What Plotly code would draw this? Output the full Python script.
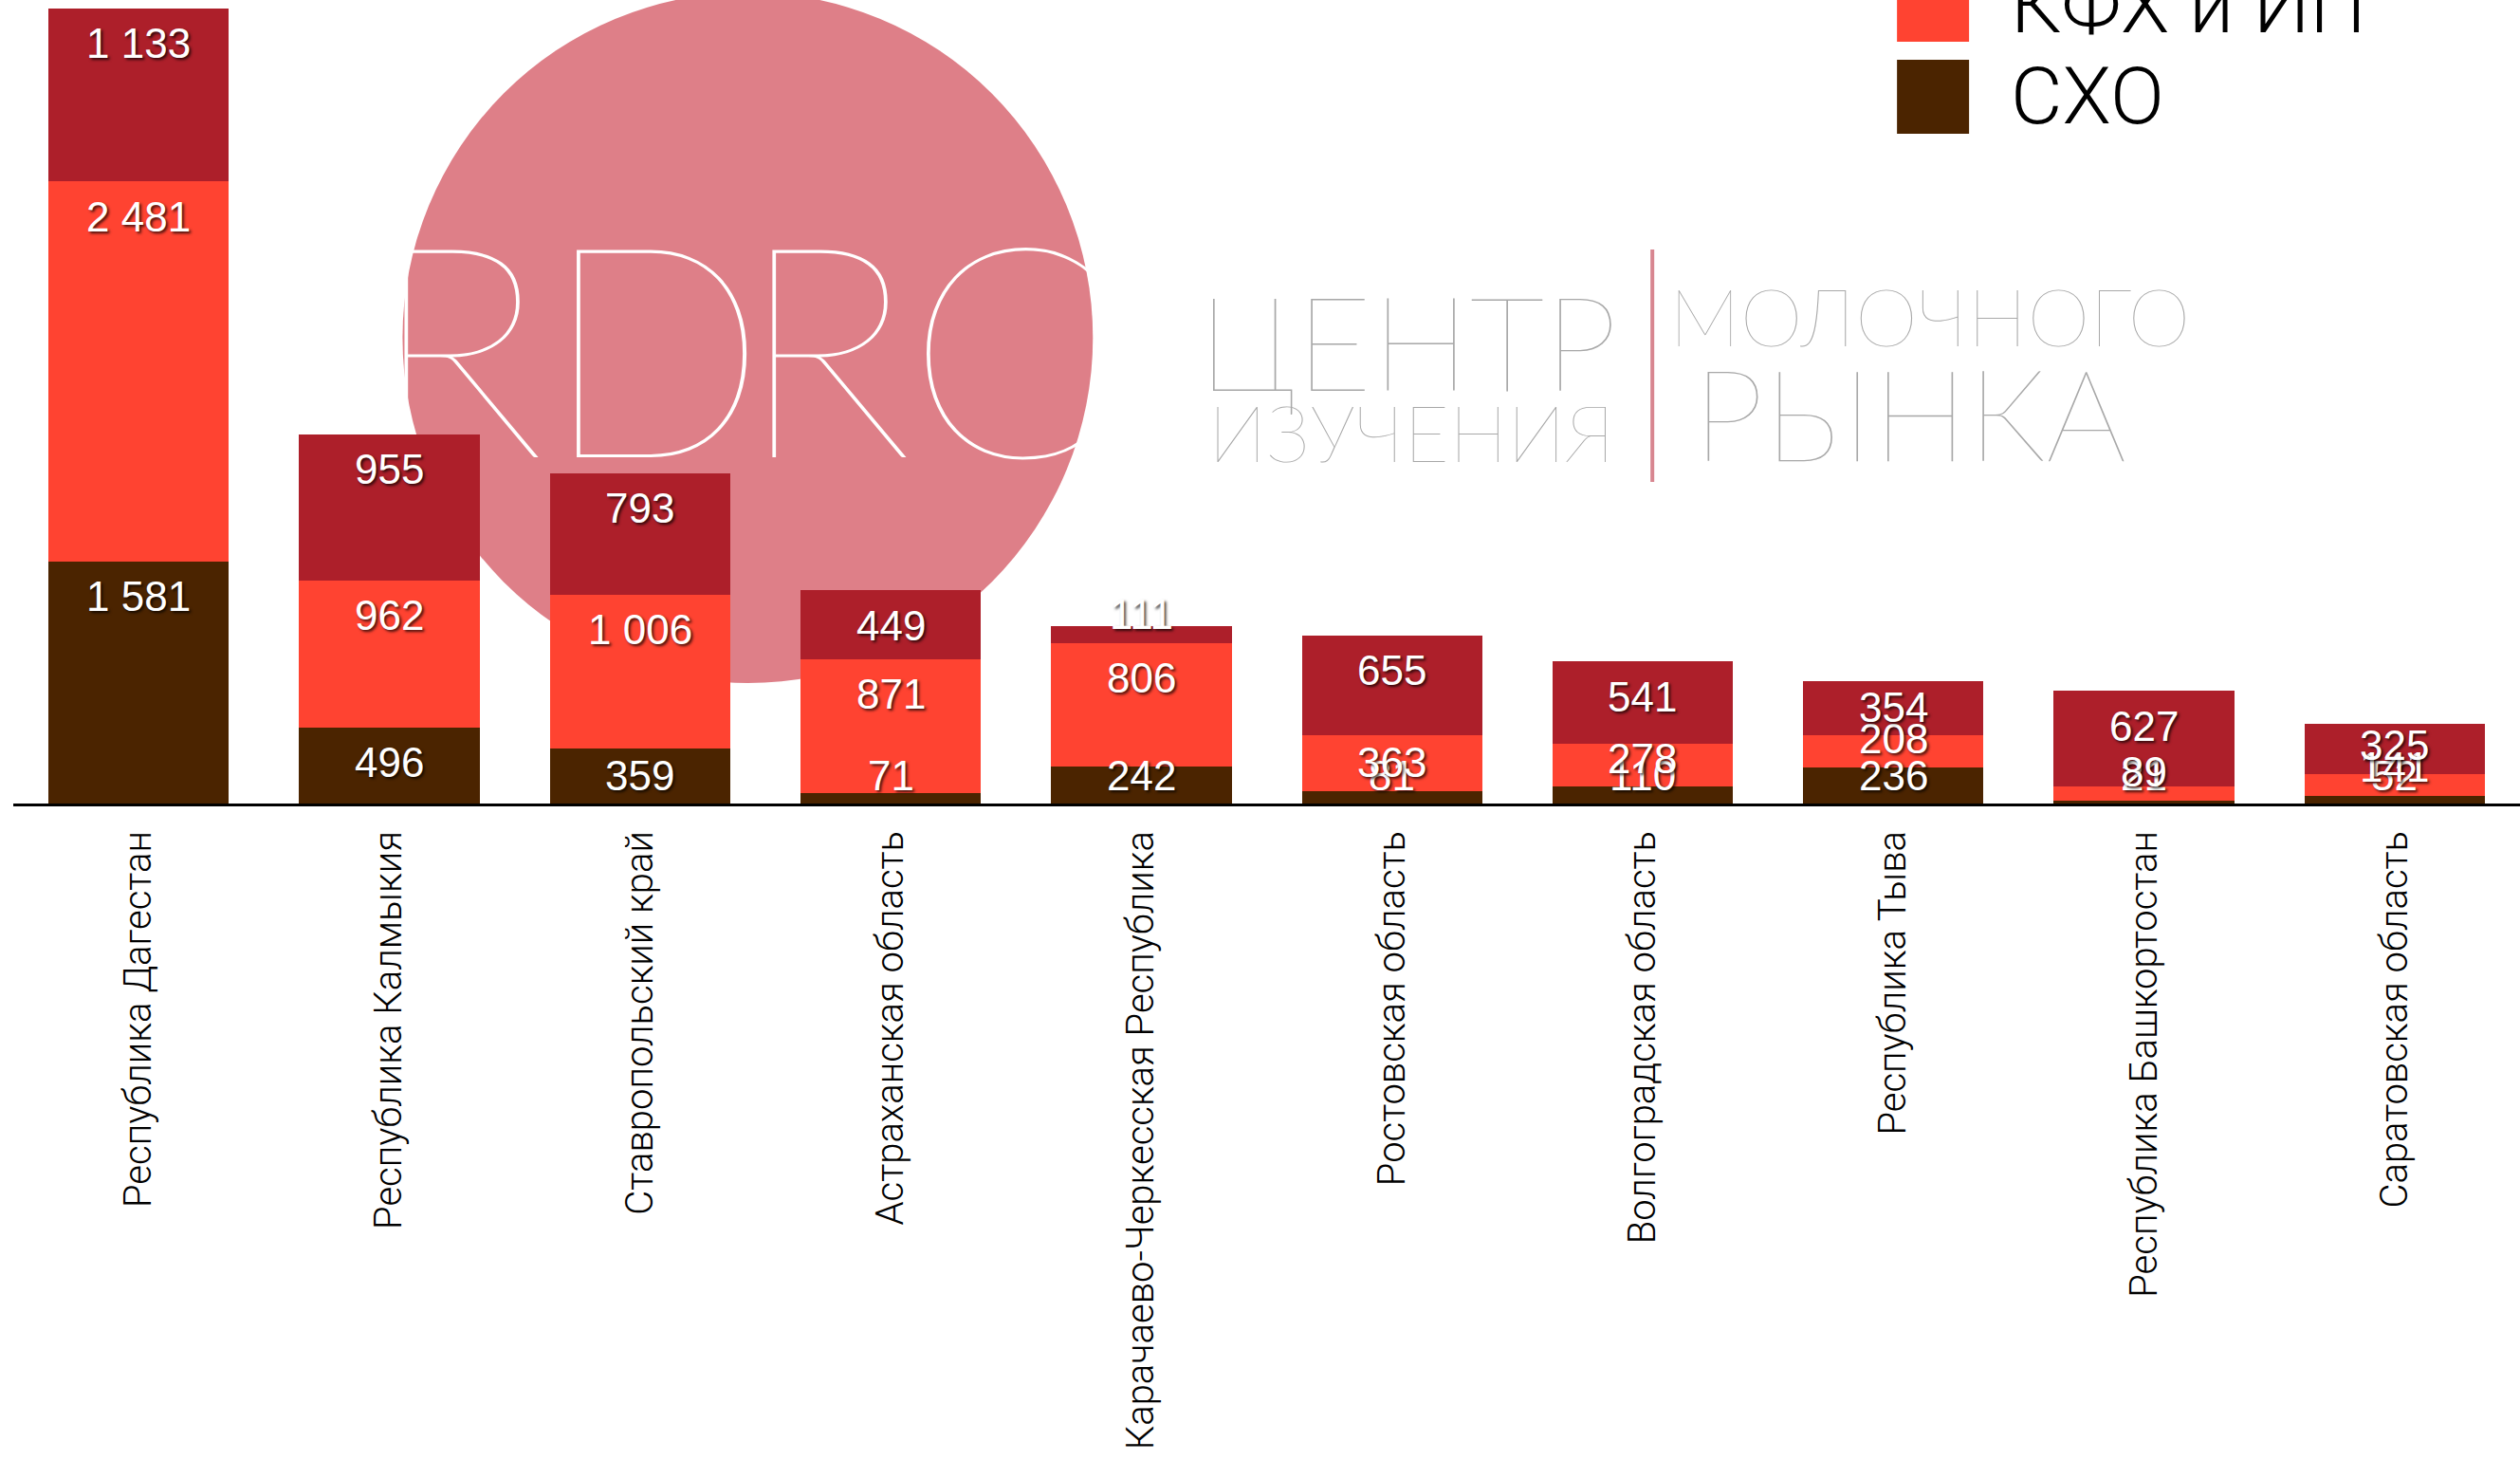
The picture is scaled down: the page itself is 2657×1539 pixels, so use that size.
import plotly.graph_objects as go

# ---------------- data ----------------
regions = [
    "Республика Дагестан",
    "Республика Калмыкия",
    "Ставропольский край",
    "Астраханская область",
    "Карачаево-Черкесская Республика",
    "Ростовская область",
    "Волгоградская область",
    "Республика Тыва",
    "Республика Башкортостан",
    "Саратовская область",
]
sho = [1581, 496, 359, 71, 242, 81, 110, 236, 21, 52]
kfh = [2481, 962, 1006, 871, 806, 363, 278, 208, 89, 141]
hn = [1133, 955, 793, 449, 111, 655, 541, 354, 627, 325]

series_names = ["СХО", "КФХ и ИП", "Хозяйства населения"]
series_values = [sho, kfh, hn]
series_colors = ["#4b2400", "#ff4331", "#ad1f2a"]

# ---------------- geometry (pixels of the 2657x1539 page) ----------------
W, H = 2657, 1539
ML, MR, MT = 13.5, 0, 0
AXIS_Y = 847
MB = H - AXIS_Y
PW = W - ML - MR
PH = AXIS_Y - MT


def px(x):
    return (x - ML) / PW


def py(y):
    return (AXIS_Y - y) / PH


totals = [a + b + c for a, b, c in zip(sho, kfh, hn)]
ymax = max(totals) * PH / (PH - 8.5)
px_per_unit = PH / ymax

LABEL_FONT = dict(family="Liberation Sans, Arial", size=44, color="white",
                  shadow="2px 2px 3px rgba(0,0,0,0.75)")
TOP_OFFSET = 37      # px from segment top to label centre
BOTTOM_OFFSET = 30   # px from segment bottom to label centre
FIT_HEIGHT = 68      # px: segment must be this tall for a top-aligned label

fig = go.Figure()

# logo lettering that must sit behind the bars (base subplot)
logo_letters = ["R", "D", "R", "C"]
logo_letter_x = [482, 690, 870, 1062]
fig.add_trace(go.Scatter(
    x=[px(v) for v in logo_letter_x], y=[py(404)] * 4, mode="text", text=logo_letters,
    textposition="middle center",
    textfont=dict(family="Lato", size=312, color="white", weight=100),
    hoverinfo="skip", showlegend=False, xaxis="x", yaxis="y",
))

for name, vals, col in zip(series_names, series_values, series_colors):
    fig.add_trace(go.Bar(
        x=regions, y=vals, name=name, marker=dict(color=col, line=dict(width=0)),
        showlegend=False, xaxis="x2", yaxis="y2", hoverinfo="x+y+name",
    ))

shapes = []
annotations = []

# value labels (Keynote style: top of segment if it fits, otherwise bottom)
base = [0] * len(regions)
for vals in series_values:
    for i, v in enumerate(vals):
        bottom = base[i]
        top = bottom + v
        if v * px_per_unit >= FIT_HEIGHT:
            yv, shift = top, -TOP_OFFSET
        else:
            yv, shift = bottom, BOTTOM_OFFSET
        annotations.append(dict(
            text=f"{v:,}".replace(",", " "), xref="x2", yref="y2",
            x=regions[i], y=yv, yshift=shift, xanchor="center", yanchor="middle",
            showarrow=False, font=LABEL_FONT))
        base[i] = top

# pink circle of the logo
shapes.append(dict(type="circle", xref="paper", yref="paper", layer="below",
                   x0=px(424), x1=px(1152), y0=py(720), y1=py(-8),
                   fillcolor="#de7f88", line=dict(width=0)))
# separator line of the logo
shapes.append(dict(type="line", xref="paper", yref="paper", layer="below",
                   x0=px(1742), x1=px(1742), y0=py(263), y1=py(508),
                   line=dict(color="#d88690", width=4)))

logo_gray = "#a8a8a8"
for txt, cx, cy, size in [
    ("ЦЕНТР", 1484, 358, 138),
    ("ИЗУЧЕНИЯ", 1488, 455, 82),
    ("МОЛОЧНОГО", 2034, 333, 84),
    ("РЫНКА", 2013, 435, 134),
]:
    annotations.append(dict(text=txt, xref="paper", yref="paper", x=px(cx), y=py(cy),
                            xanchor="center", yanchor="middle", showarrow=False,
                            font=dict(family="Lato", size=size, color=logo_gray, weight=200)))

# custom legend (big swatches), top item falls off the page as in the original
leg_x0, leg_x1 = 2000, 2076
leg_text_x = 2118
leg_rows = [(series_names[0], series_colors[0], 102),
            (series_names[1], series_colors[1], 5),
            (series_names[2], series_colors[2], -92)]
for name, col, cy in leg_rows:
    shapes.append(dict(type="rect", xref="paper", yref="paper",
                       x0=px(leg_x0), x1=px(leg_x1), y0=py(cy + 39), y1=py(cy - 39),
                       fillcolor=col, line=dict(width=0)))
    annotations.append(dict(text=name, xref="paper", yref="paper", x=px(leg_text_x), y=py(cy),
                            xanchor="left", yanchor="middle", showarrow=False,
                            font=dict(family="Roboto", size=84, color="black", weight=300)))

fig.update_layout(
    width=W, height=H,
    margin=dict(l=ML, r=MR, t=MT, b=MB, pad=0, autoexpand=False),
    paper_bgcolor="white", plot_bgcolor="rgba(0,0,0,0)",
    barmode="stack", bargap=0.28,
    showlegend=False,
    xaxis=dict(visible=False, range=[0, 1], domain=[0, 1], fixedrange=True),
    yaxis=dict(visible=False, range=[0, 1], domain=[0, 1], fixedrange=True),
    xaxis2=dict(overlaying="x", side="bottom", type="category",
                showline=True, linecolor="black", linewidth=3,
                showgrid=False, zeroline=False, ticks="", tickangle=-90,
                ticklabelstandoff=10, automargin=False,
                tickfont=dict(family="Roboto", size=40, color="black", weight=300)),
    yaxis2=dict(overlaying="y", range=[0, ymax], visible=False, showgrid=False),
    shapes=shapes,
    annotations=annotations,
)

fig.write_html("out.html", config={"displayModeBar": False},
               post_script="document.body.style.margin='0';document.body.style.overflow='hidden';")
